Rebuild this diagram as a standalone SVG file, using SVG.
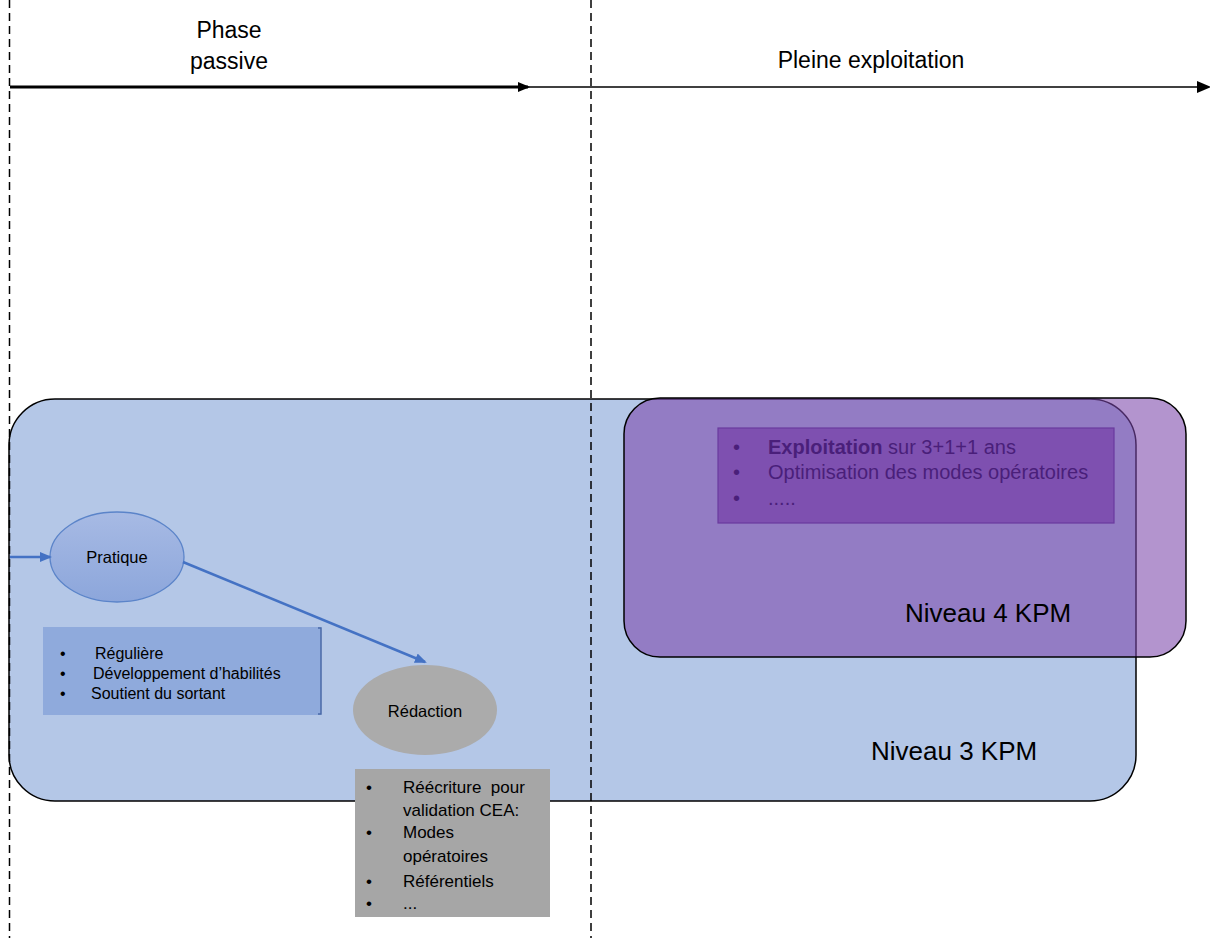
<svg xmlns="http://www.w3.org/2000/svg" width="1210" height="938" viewBox="0 0 1210 938">
<style>
text{font-family:"Liberation Sans",Arial,sans-serif;fill:#000}
.phase{font-size:23px}
.niv{font-size:26px}
.dash{stroke:#000;stroke-width:1.5;stroke-dasharray:8 5;fill:none}
.blue{stroke:#4472C4;stroke-width:2.5;fill:none}
.pt{font-size:20px;fill:#4A1F7A}
.rt{font-size:16px}
.gt{font-size:17px}
</style>
<defs>
<marker id="hb" markerUnits="userSpaceOnUse" markerWidth="12" markerHeight="10" refX="10" refY="5" orient="auto"><path d="M0,0 L12,5 L0,10 z" fill="#000"/></marker>
<marker id="hb2" markerUnits="userSpaceOnUse" markerWidth="14" markerHeight="12" refX="12" refY="6" orient="auto"><path d="M0,0 L14,6 L0,12 z" fill="#000"/></marker>
<marker id="hblue" markerUnits="userSpaceOnUse" markerWidth="12" markerHeight="10" refX="10" refY="5" orient="auto"><path d="M0,0 L12,5 L0,10 z" fill="#4472C4"/></marker>
<linearGradient id="gp" x1="0" y1="0" x2="0" y2="1"><stop offset="0" stop-color="#A7BAE4"/><stop offset="1" stop-color="#8CA6DB"/></linearGradient>
</defs>

<g id="niveau3">
<rect x="9" y="399" width="1127" height="402" rx="46" ry="46" fill="#B4C7E7" stroke="#000" stroke-width="1.5"/>
<text class="niv" x="871" y="760">Niveau 3 KPM</text>
</g>

<g id="niveau4">
<rect x="624" y="398" width="562" height="259" rx="36" ry="36" fill="#7C47AB" fill-opacity="0.58" stroke="#000" stroke-width="1.5"/>
<text class="niv" x="905" y="622">Niveau 4 KPM</text>
</g>

<g id="exploitation-box">
<rect x="718" y="428" width="396" height="95" fill="#7E50B0" stroke="#6A3A9E" stroke-width="1.2"/>
<text class="pt" x="733" y="454">•</text>
<text class="pt" x="768" y="454"><tspan font-weight="bold">Exploitation</tspan> sur 3+1+1 ans</text>
<text class="pt" x="733" y="479">•</text>
<text class="pt" x="768" y="479">Optimisation des modes opératoires</text>
<text class="pt" x="733" y="505">•</text>
<text class="pt" x="768" y="505" font-size="14">.....</text>
</g>

<g id="timeline">
<text class="phase" x="229" y="38" text-anchor="middle">Phase</text>
<text class="phase" x="229" y="69" text-anchor="middle">passive</text>
<text class="phase" x="871" y="68" text-anchor="middle" font-size="24.5">Pleine exploitation</text>
</g>

<g id="pratique">
<ellipse cx="117" cy="557" rx="67" ry="45" fill="url(#gp)" stroke="#5B84C9" stroke-width="1.3"/>
<text x="117" y="563" font-size="16.5" text-anchor="middle">Pratique</text>
</g>

<g id="pratique-details">
<rect x="43" y="627" width="278" height="88" fill="#8FAADC"/>
<path d="M318,628 L321,628 L321,714 L318,714" fill="none" stroke="#4A6AA8" stroke-width="1.5"/>
<text class="rt" x="60" y="659">•</text>
<text class="rt" x="95" y="659">Régulière</text>
<text class="rt" x="60" y="679">•</text>
<text class="rt" x="93" y="679">Développement d’habilités</text>
<text class="rt" x="60" y="699">•</text>
<text class="rt" x="91" y="699">Soutient du sortant</text>
</g>

<g id="redaction">
<ellipse cx="425" cy="710" rx="72" ry="45" fill="#ABABAB"/>
<text x="425" y="717" font-size="16.5" text-anchor="middle">Rédaction</text>
</g>

<g id="redaction-details">
<rect x="355" y="769" width="195" height="148" fill="#A6A6A6"/>
<text class="gt" x="366" y="793">•</text>
<text class="gt" x="403" y="793" xml:space="preserve">Réécriture  pour</text>
<text class="gt" x="403" y="816">validation CEA:</text>
<text class="gt" x="366" y="838">•</text>
<text class="gt" x="403" y="838">Modes</text>
<text class="gt" x="403" y="862">opératoires</text>
<text class="gt" x="366" y="887">•</text>
<text class="gt" x="403" y="887">Référentiels</text>
<text class="gt" x="366" y="909">•</text>
<text class="gt" x="403" y="909" font-size="13">...</text>
</g>

<g id="connectors">
<line class="dash" x1="9.5" y1="0" x2="9.5" y2="938"/>
<line class="dash" x1="591" y1="0" x2="591" y2="938"/>
<line x1="10" y1="87" x2="528" y2="87" stroke="#000" stroke-width="3" marker-end="url(#hb)"/>
<line x1="528" y1="87" x2="1209" y2="87" stroke="#000" stroke-width="1.5" marker-end="url(#hb2)"/>
<line class="blue" x1="10" y1="557" x2="50" y2="557" marker-end="url(#hblue)"/>
<line class="blue" x1="183" y1="562" x2="425" y2="662" marker-end="url(#hblue)"/>
</g>
</svg>
